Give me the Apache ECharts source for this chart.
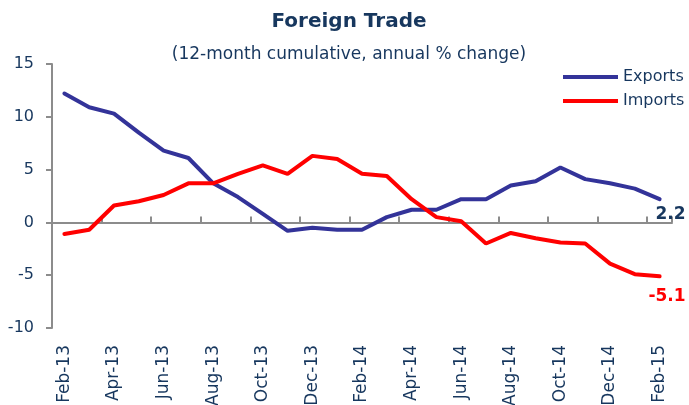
<!DOCTYPE html>
<html>
<head>
<meta charset="utf-8">
<script src="https://cdn.jsdelivr.net/npm/echarts@6/dist/echarts.min.js"></script>
<style>
  html, body { margin: 0; padding: 0; background: #fff; }
  #myChart { width: 689px; height: 405px; }
</style>
</head>
<body>
<div id="myChart"></div>
<script>
// monthly categories Feb-13 .. Feb-15
var months = ['Feb-13', 'Mar-13', 'Apr-13', 'May-13', 'Jun-13', 'Jul-13', 'Aug-13', 'Sep-13', 'Oct-13',
  'Nov-13', 'Dec-13', 'Jan-14', 'Feb-14', 'Mar-14', 'Apr-14', 'May-14', 'Jun-14', 'Jul-14', 'Aug-14',
  'Sep-14', 'Oct-14', 'Nov-14', 'Dec-14', 'Jan-15', 'Feb-15']
var exportsVals = [12.2, 10.9, 10.3, 8.5, 6.8, 6.1, 3.7, 2.4, 0.8, -0.8, -0.5, -0.7, -0.7,
  0.5, 1.2, 1.2, 2.2, 2.2, 3.5, 3.9, 5.2, 4.1, 3.7, 3.2, 2.2]
var importsVals = [-1.1, -0.7, 1.6, 2.0, 2.6, 3.7, 3.7, 4.6, 5.4, 4.6, 6.3, 6.0, 4.6,
  4.4, 2.2, 0.5, 0.1, -2.0, -1.0, -1.5, -1.9, -2.0, -3.9, -4.9, -5.1]
var seriesNames = ['Exports', 'Imports']
var yTicks = { min: -10, max: 15, step: 5 }

var navy = '#17375E'
var font = 'DejaVu Sans'

// bold value printed under the last point
function endLabel(color, offset) {
  return {
    show: true,
    distance: 0,
    align: 'right',
    offset: offset,
    color: color,
    fontFamily: font,
    fontWeight: 'bold',
    fontSize: 17,
    formatter: function (p) { return p.value }
  }
}

var myChart = echarts.init(document.getElementById('myChart'))

var option = {
  backgroundColor: '#fff',
  animation: false,
  title: {
    text: 'Foreign Trade',
    subtext: '(12-month cumulative, annual % change)',
    left: 344,
    textAlign: 'center',
    top: 7,
    itemGap: 14,
    textStyle: { color: navy, fontFamily: font, fontWeight: 'bold', fontSize: 20 },
    subtextStyle: { color: navy, fontFamily: font, fontSize: 17 }
  },
  legend: {
    orient: 'vertical',
    left: 558,
    top: 64,
    itemGap: 8,
    itemWidth: 55,
    itemHeight: 4,
    icon: 'rect',
    data: seriesNames,
    textStyle: { color: navy, fontFamily: font, fontSize: 16 }
  },
  grid: {
    left: 52,
    right: 17,
    top: 64,
    bottom: 77,
    outerBoundsMode: 'none'
  },
  xAxis: [
    {
      type: 'category',
      data: months,
      boundaryGap: true,
      axisLine: { show: false, onZero: false },
      axisTick: { show: false },
      axisLabel: {
        interval: 1,
        rotate: 90,
        margin: 17,
        color: navy,
        fontFamily: font,
        fontSize: 17
      }
    },
    {
      type: 'category',
      data: months,
      boundaryGap: true,
      axisLine: { show: true, onZero: true, lineStyle: { color: '#8c8c8c', width: 2 } },
      axisTick: { show: true, interval: 1, length: 6, lineStyle: { color: '#8c8c8c', width: 2 } },
      axisLabel: { show: false }
    }
  ],
  yAxis: {
    type: 'value',
    min: yTicks.min,
    max: yTicks.max,
    interval: yTicks.step,
    axisLine: { show: true, lineStyle: { color: '#8c8c8c', width: 2 } },
    axisTick: { show: true, length: 6, lineStyle: { color: '#8c8c8c', width: 2 } },
    splitLine: { show: false },
    axisLabel: { margin: 18, color: navy, fontFamily: font, fontSize: 16 }
  },
  series: [
    {
      name: seriesNames[0],
      type: 'line',
      xAxisIndex: 0,
      data: exportsVals,
      symbol: 'none',
      color: '#333399',
      lineStyle: { width: 4, color: '#333399', cap: 'round' },
      endLabel: endLabel(navy, [26, 15])
    },
    {
      name: seriesNames[1],
      type: 'line',
      xAxisIndex: 0,
      data: importsVals,
      symbol: 'none',
      color: '#ff0000',
      lineStyle: { width: 4, color: '#ff0000', cap: 'round' },
      endLabel: endLabel('#ff0000', [26, 20])
    }
  ]
}
myChart.setOption(option)
</script>
</body>
</html>
